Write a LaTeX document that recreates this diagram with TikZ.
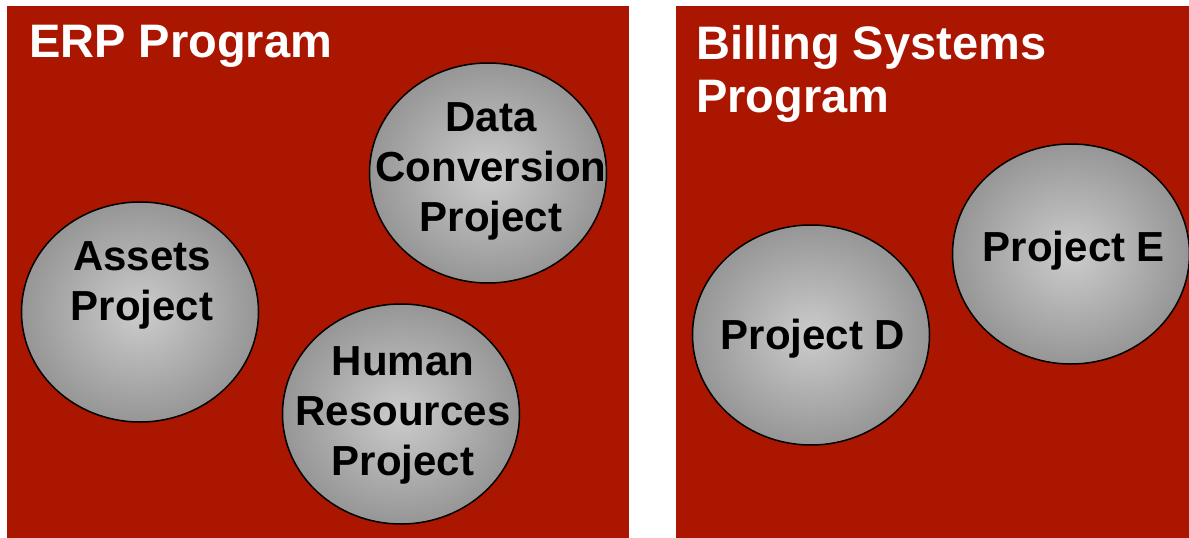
\documentclass[tikz,border=0pt]{standalone}
\usepackage{fontspec}
\setmainfont{Liberation Sans}
\usetikzlibrary{shapes.geometric}
\definecolor{progred}{RGB}{170,22,0}
\definecolor{projlight}{RGB}{204,204,204}
\definecolor{projdark}{RGB}{150,150,150}
\begin{document}
\begin{tikzpicture}[x=1pt,y=-1pt,
        progbox/.style={fill=progred},
        progtitle/.style={text=white, align=left, inner sep=0pt, font=\bfseries\fontsize{47}{53}\selectfont},
        proj/.style={ellipse, draw=black, line width=1.5pt, minimum width=237pt, minimum height=220pt, inner sep=0pt,
                     shading=radial, inner color=projlight, outer color=projdark},
        projtext/.style={align=center, inner sep=0pt, font=\bfseries\fontsize{42}{50}\selectfont}]
        \useasboundingbox[fill=white] (0,0) rectangle (1189,538);
        
        %the two program boxes
        \fill[progbox] (7,6) rectangle (629,538);
        \fill[progbox] (676,6) rectangle (1189,538);
        
        \node[progtitle, anchor=north west] (erp) at (29,25) {ERP Program};
        \node[progtitle, anchor=north west] (billing) at (696,25) {Billing Systems\\Program};
        
        %projects of the ERP program
        \node[proj] (assets) at (140,312) {};
        \node[proj] (dataconv) at (488,173) {};
        \node[proj] (hr) at (401,414) {};
        \node[projtext] (assetstext) at (142,285) {Assets\\Project};
        \node[projtext] (dataconvtext) at (491,171) {Data\\Conversion\\Project};
        \node[projtext] (hrtext) at (403,415) {Human\\Resources\\Project};
        
        %projects of the billing program
        \node[proj] (projd) at (811,335) {};
        \node[proj] (proje) at (1071,254) {};
        \node[projtext] (projdtext) at (813,339) {Project D};
        \node[projtext] (projetext) at (1074,251) {Project E};
        
    \end{tikzpicture}
\end{document}
